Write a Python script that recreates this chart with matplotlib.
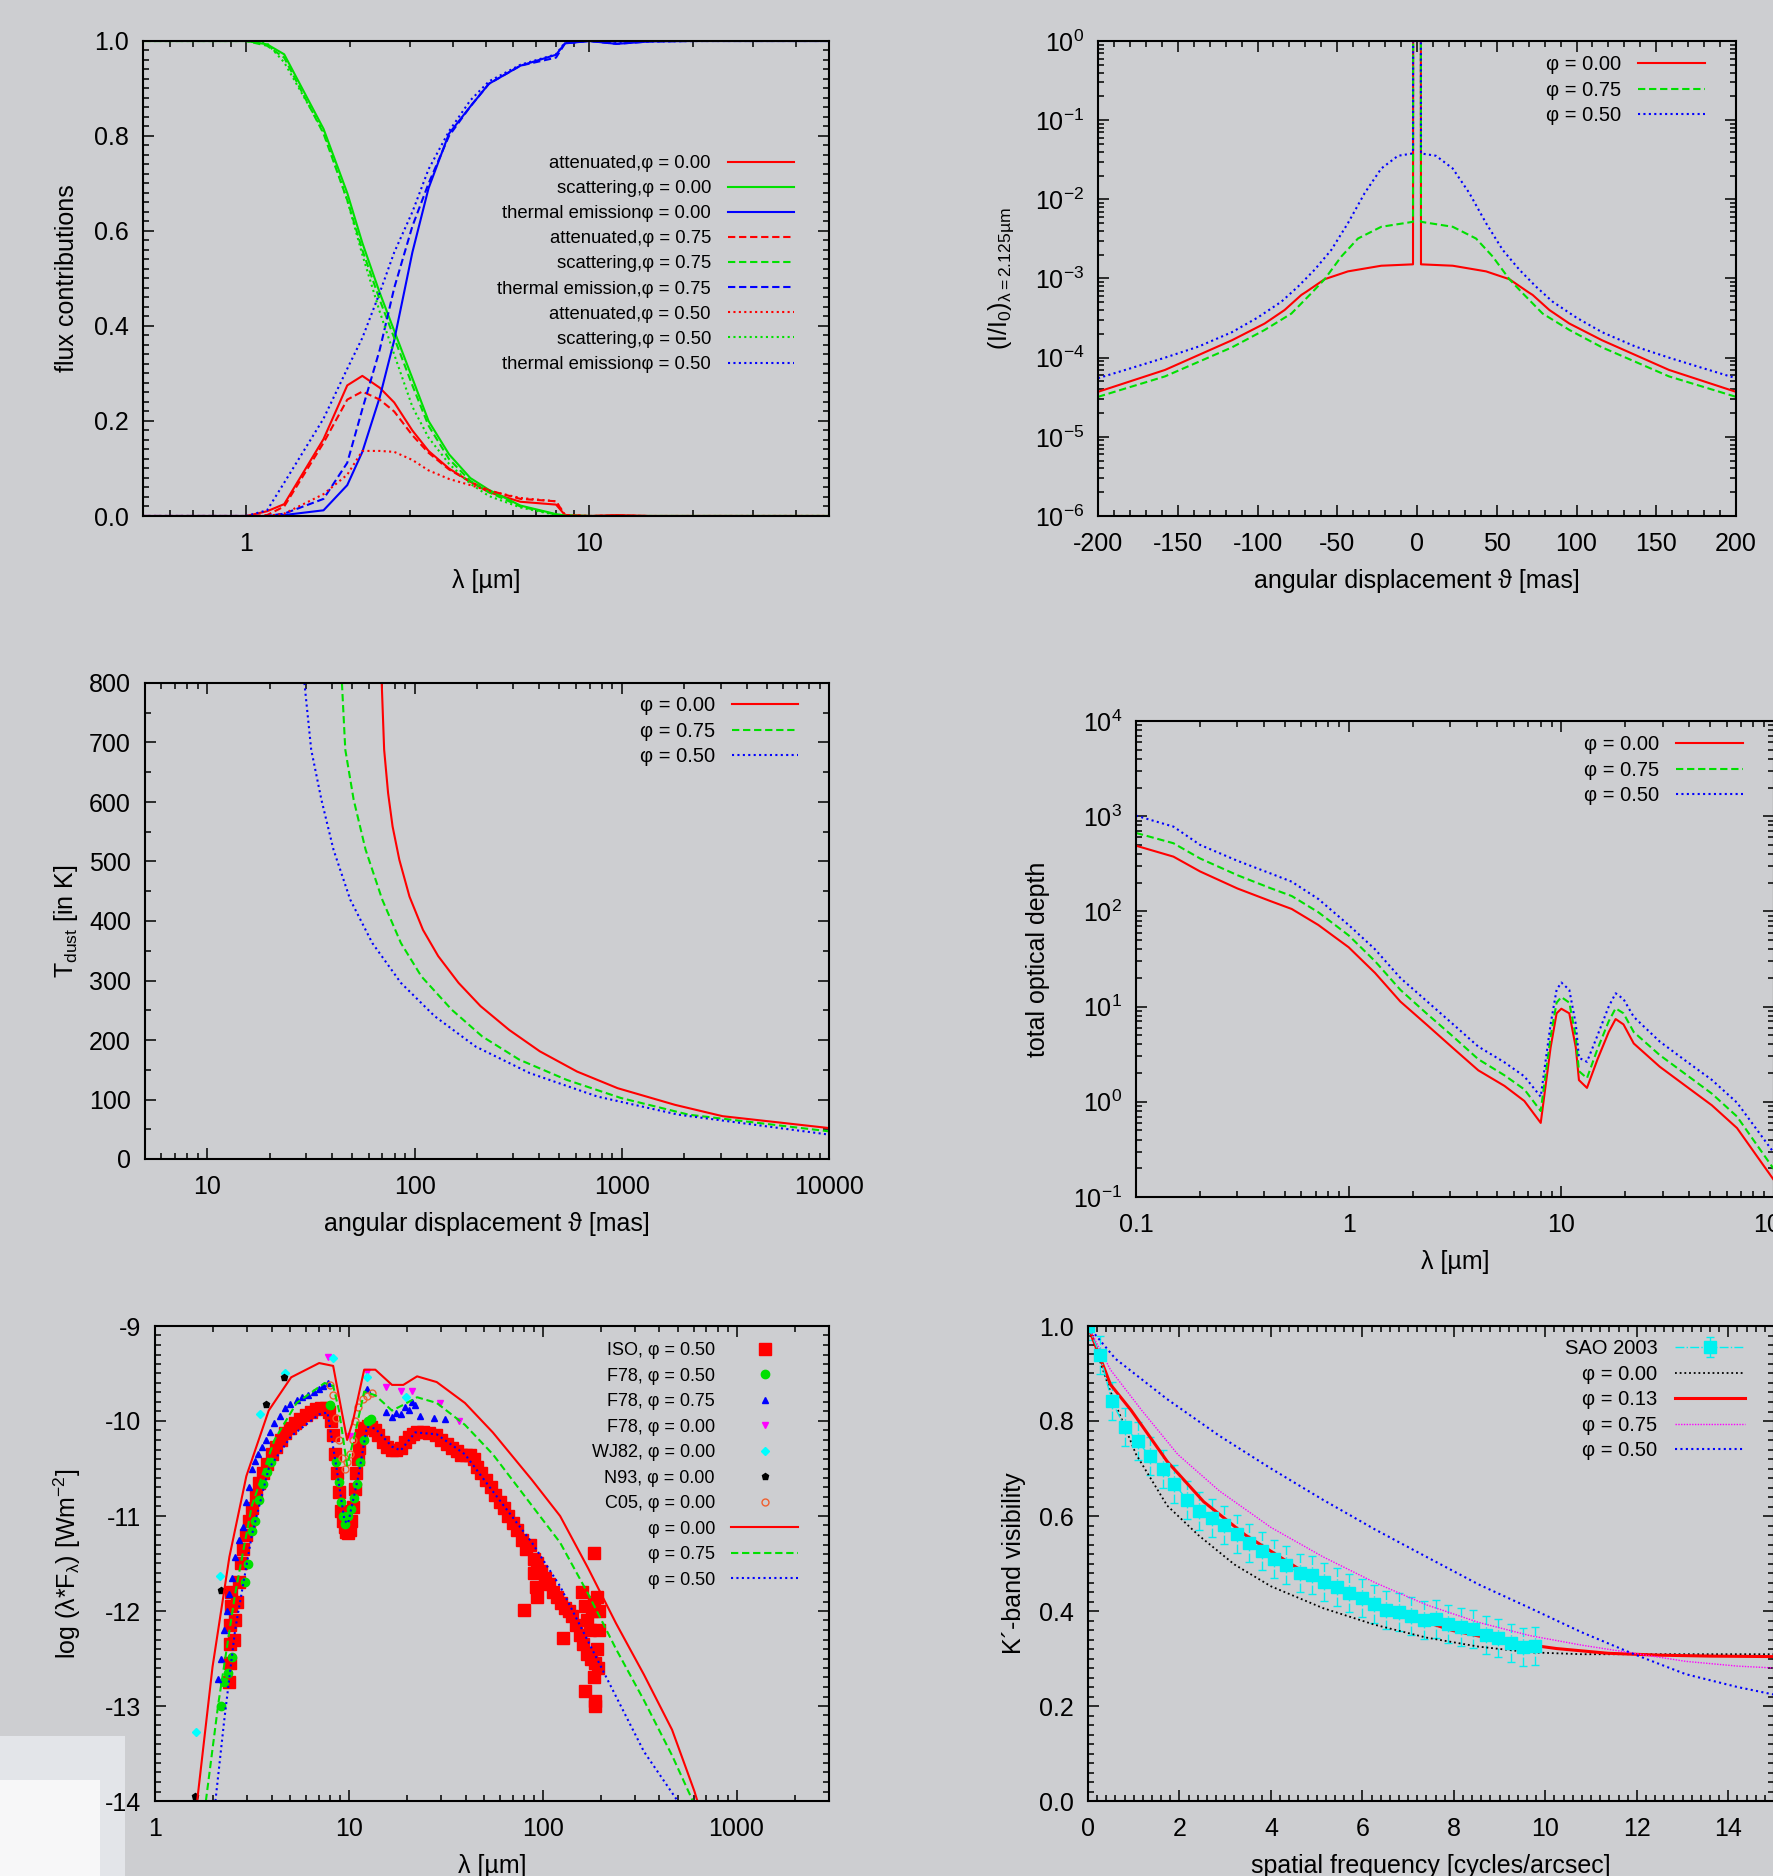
import matplotlib
matplotlib.use("Agg")
import matplotlib.pyplot as plt
from matplotlib import ticker
from matplotlib.patches import Rectangle

plt.rcParams['font.family'] = ['Liberation Sans', 'DejaVu Sans']
plt.rcParams['mathtext.fontset'] = 'custom'
plt.rcParams['mathtext.rm'] = 'Liberation Sans'
plt.rcParams['mathtext.it'] = 'Liberation Sans:italic'
plt.rcParams['mathtext.bf'] = 'Liberation Sans:bold'
plt.rcParams['axes.unicode_minus'] = False

# ---- panel 1: flux contributions ----
lam1 = [0.5, 1.0, 1.15, 1.29, 1.68, 1.97, 2.18, 2.45, 2.70, 3.05, 3.4, 3.9, 4.5, 5.1, 6.3, 8.0, 8.5, 10, 12, 15, 20, 50]
att_00 = [0, 0, 0.01, 0.025, 0.162, 0.275, 0.295, 0.27, 0.239, 0.18, 0.137, 0.10, 0.072, 0.05, 0.03, 0.024, 0.002, 0, 0.002, 0, 0, 0]
sca_00 = [1.0, 1.0, 0.993, 0.972, 0.815, 0.68, 0.575, 0.47, 0.39, 0.29, 0.20, 0.13, 0.08, 0.055, 0.022, 0.004, 0.001, 0, 0, 0, 0, 0]
the_00 = [0, 0, 0, 0.002, 0.012, 0.065, 0.135, 0.25, 0.37, 0.555, 0.69, 0.805, 0.862, 0.91, 0.948, 0.971, 0.995, 1.0, 0.994, 0.999, 1.0, 1.0]
att_75 = [0, 0, 0.002, 0.02, 0.154, 0.245, 0.262, 0.245, 0.22, 0.17, 0.133, 0.098, 0.072, 0.054, 0.036, 0.031, 0.002, 0, 0.001, 0, 0, 0]
sca_75 = [1.0, 1.0, 0.99, 0.965, 0.805, 0.665, 0.56, 0.455, 0.375, 0.275, 0.19, 0.12, 0.074, 0.05, 0.02, 0.003, 0.001, 0, 0, 0, 0, 0]
the_75 = [0, 0, 0, 0.005, 0.036, 0.112, 0.225, 0.35, 0.48, 0.61, 0.70, 0.80, 0.862, 0.91, 0.948, 0.965, 0.995, 1.0, 0.994, 0.999, 1.0, 1.0]
att_50 = [0, 0, 0, 0.005, 0.046, 0.087, 0.137, 0.137, 0.135, 0.118, 0.096, 0.078, 0.065, 0.053, 0.038, 0.031, 0.002, 0, 0.001, 0, 0, 0]
sca_50 = [1.0, 1.0, 0.995, 0.955, 0.81, 0.665, 0.55, 0.43, 0.34, 0.23, 0.165, 0.11, 0.068, 0.042, 0.018, 0.002, 0, 0, 0, 0, 0, 0]
the_50 = [0, 0, 0.012, 0.07, 0.205, 0.31, 0.375, 0.47, 0.555, 0.64, 0.73, 0.81, 0.875, 0.915, 0.95, 0.972, 0.997, 1.0, 0.996, 0.999, 1.0, 1.0]

# ---- panel 2: intensity profile at 2.125 um (spike at the centre runs off the top) ----
th2_00 = [-200, -158, -116, -95.5, -83, -72.5, -69.4, -57.9, -43.3, -22.4, -2.5, -2.4,
          2.4, 2.5, 22.4, 43.3, 57.9, 69.4, 72.5, 83, 95.5, 116, 158, 200]
prof_00 = [3.7e-5, 7.0e-5, 1.66e-4, 2.7e-4, 4.0e-4, 6.2e-4, 6.8e-4, 9.8e-4, 1.23e-3, 1.45e-3, 1.51e-3, 5,
           5, 1.51e-3, 1.45e-3, 1.23e-3, 9.8e-4, 6.8e-4, 6.2e-4, 4.0e-4, 2.7e-4, 1.66e-4, 7.0e-5, 3.7e-5]
th2_75 = [-200, -158, -116, -95.5, -78.8, -66.3, -57.9, -47.4, -37, -22.4, -2.5, -2.4,
          2.4, 2.5, 22.4, 37, 47.4, 57.9, 66.3, 78.8, 95.5, 116, 158, 200]
prof_75 = [3.2e-5, 5.8e-5, 1.35e-4, 2.24e-4, 3.6e-4, 6.5e-4, 9.8e-4, 1.9e-3, 3.2e-3, 4.5e-3, 5.2e-3, 5,
           5, 5.2e-3, 4.5e-3, 3.2e-3, 1.9e-3, 9.8e-4, 6.5e-4, 3.6e-4, 2.24e-4, 1.35e-4, 5.8e-5, 3.2e-5]
th2_50 = [-200, -179, -158, -137, -116, -100, -85, -74.6, -64.2, -53.7, -43.3, -32.8, -22.4, -11.9, -2.5, -2.4,
          2.4, 2.5, 11.9, 22.4, 32.8, 43.3, 53.7, 64.2, 74.6, 85, 100, 116, 137, 158, 179, 200]
prof_50 = [5.5e-5, 7.4e-5, 1.0e-4, 1.38e-4, 2.1e-4, 3.2e-4, 5.1e-4, 7.9e-4, 1.29e-3, 2.3e-3, 5.0e-3, 1.2e-2, 2.45e-2, 3.55e-2, 3.8e-2, 5,
           5, 3.8e-2, 3.55e-2, 2.45e-2, 1.2e-2, 5.0e-3, 2.3e-3, 1.29e-3, 7.9e-4, 5.1e-4, 3.2e-4, 2.1e-4, 1.38e-4, 1.0e-4, 7.4e-5, 5.5e-5]

# ---- panel 3: dust temperature ----
th3_00 = [69.4, 71.3, 74.5, 78.3, 84.4, 94.5, 109.8, 130, 163, 208, 286, 402, 608, 955, 1807, 3062, 10000]
T_00 = [800, 688, 615, 559, 503, 441, 385, 341, 296, 257, 217, 181, 147, 119, 91, 72, 52]
th3_75 = [44.6, 46.3, 50.8, 58, 69.8, 85.9, 107.8, 151, 212, 320, 542, 991, 2103, 10000]
T_75 = [800, 688, 604, 520, 436, 363, 307, 251, 206, 167, 133, 102.5, 74.5, 46.5]
th3_50 = [29.4, 31.7, 35.5, 40.6, 48.9, 62.5, 85.9, 125, 197, 359, 762, 1875, 10000]
T_50 = [800, 688, 604, 520, 436, 363, 296, 240, 189, 144.5, 105, 74.5, 41]

# ---- panel 4: total optical depth ----
lam4 = [0.1, 0.15, 0.2, 0.3, 0.43, 0.54, 0.72, 1.0, 1.33, 1.75, 2.32, 3.08, 4.07, 5.4, 6.7, 8.0,
        8.9, 9.5, 10.0, 10.9, 11.7, 12.1, 13.2, 14.8, 16.7, 18.0, 19.6, 21.9, 29, 38.4, 51, 67, 100]
tau_00 = [490, 376, 263, 174, 128, 106, 72, 42, 22.6, 11.3, 6.5, 3.7, 2.14, 1.47, 1.02, 0.60,
          3.7, 8.5, 9.5, 8.5, 3.7, 1.69, 1.40, 2.8, 5.4, 7.4, 6.5, 4.1, 2.34, 1.47, 0.92, 0.53, 0.15]
tau_75 = [667, 520, 360, 240, 175, 145, 98, 56, 30, 15, 8.5, 4.9, 2.8, 1.9, 1.35, 0.80,
          4.8, 11, 12.6, 11, 4.8, 2.1, 1.77, 3.6, 7.0, 9.6, 8.5, 5.4, 3.1, 1.95, 1.22, 0.70, 0.195]
tau_50 = [1014, 777, 500, 340, 250, 205, 135, 72, 40, 20, 11.5, 6.6, 3.8, 2.6, 1.85, 1.13,
          6.5, 15, 17.9, 15, 6.5, 2.9, 2.63, 5.0, 10, 13.8, 12, 7.8, 4.3, 2.7, 1.7, 0.98, 0.29]

# ---- panel 5: SED ----
sed_lam_00 = [1.65, 1.98, 2.42, 2.96, 3.86, 5.04, 7.03, 8.3, 9.17, 9.8, 10.5, 12.0, 13.7, 16.7, 19.1, 22.5, 28.4, 39.7, 55.3, 88, 123, 171.6, 239, 333, 465, 607, 628]
sed_00 = [-14, -12.59, -11.43, -10.58, -9.89, -9.54, -9.39, -9.42, -9.89, -10.2, -10.0, -9.46, -9.46, -9.62, -9.62, -9.53, -9.59, -9.81, -10.12, -10.62, -11.0, -11.55, -12.13, -12.67, -13.25, -13.9, -14]
sed_lam_75 = [1.83, 2.12, 2.59, 3.16, 4.13, 5.38, 7.5, 8.3, 8.9, 9.8, 10.8, 12.0, 13.7, 16.7, 19.1, 22.5, 28.4, 39.7, 55.3, 88, 123, 171.6, 239, 333, 465, 595]
sed_75 = [-14, -12.98, -11.82, -10.89, -10.2, -9.81, -9.6, -9.63, -9.89, -10.47, -10.12, -9.69, -9.73, -9.89, -9.83, -9.75, -9.81, -10.04, -10.35, -10.89, -11.28, -11.82, -12.40, -12.94, -13.52, -14]
sed_lam_50 = [2.05, 2.27, 2.59, 3.16, 3.86, 5.04, 7.03, 7.76, 8.6, 9.5, 9.9, 11.2, 12.4, 13.7, 16.7, 18.5, 22, 28.4, 39.7, 55.3, 88, 123, 171.6, 239, 333, 497]
sed_50 = [-14, -13.17, -12.2, -11.2, -10.5, -10.16, -9.93, -9.91, -10.47, -11.05, -11.08, -10.58, -10.06, -10.08, -10.27, -10.31, -10.12, -10.14, -10.35, -10.74, -11.28, -11.74, -12.32, -12.90, -13.48, -14]

iso_lam = [2.42, 2.43, 2.44, 2.45, 2.46, 2.47, 2.55, 2.6, 2.65, 2.7, 2.78, 2.85, 2.95, 3.05, 3.15, 3.3, 3.45, 3.6, 3.8, 4.0,
           4.2, 4.45, 4.7, 5.0, 5.3, 5.6, 6.0, 6.4, 6.8, 7.2, 7.6, 7.9, 8.1, 8.3, 8.5, 8.7, 8.9, 9.1, 9.3, 9.5,
           9.7, 9.9, 10.1, 10.3, 10.5, 10.7, 10.9, 11.1, 11.3, 11.6, 12.0, 12.5, 13.0, 13.6, 14.2, 15.0, 15.8, 16.6, 17.5, 18.5,
           19.5, 20.5, 21.5, 22.5, 24, 26, 28, 30, 32, 34, 36, 38, 40, 42, 44, 46, 48, 51, 54, 57,
           60, 63, 66, 70, 74, 78, 82, 86, 90, 94, 98, 103, 108, 113, 118, 124, 130, 136, 142, 148,
           155, 162, 170, 178, 186, 193, 160, 165, 170, 175, 180, 185, 190, 195, 195, 190, 185,
           80, 127, 166, 187, 187, 183, 90, 92, 94]
iso_val = [-12.75, -12.55, -12.35, -12.15, -11.95, -11.8, -12.3, -12.1, -11.9, -11.7, -11.5, -11.35, -11.2, -11.05, -10.92, -10.78, -10.65, -10.55, -10.45, -10.35,
           -10.27, -10.2, -10.13, -10.07, -10.02, -9.98, -9.94, -9.9, -9.87, -9.86, -9.86, -9.9, -10.0, -10.15, -10.35, -10.55, -10.75, -10.95, -11.05, -11.12,
           -11.17, -11.18, -11.15, -11.05, -10.9, -10.72, -10.55, -10.4, -10.28, -10.15, -10.07, -10.05, -10.06, -10.1, -10.15, -10.22, -10.27, -10.3, -10.31, -10.28,
           -10.22, -10.17, -10.14, -10.12, -10.12, -10.13, -10.15, -10.2, -10.24, -10.28, -10.32, -10.36, -10.36, -10.36, -10.4, -10.48, -10.55, -10.62, -10.7, -10.78,
           -10.85, -10.92, -11.0, -11.07, -11.15, -11.25, -11.35, -11.3, -11.45, -11.5, -11.58, -11.65, -11.72, -11.8, -11.85, -11.92, -11.97, -12.0, -12.05, -12.15,
           -12.25, -12.35, -12.45, -12.5, -12.55, -12.6, -11.8, -11.95, -12.1, -12.2, -12.0, -11.9, -11.85, -12.0, -12.2, -12.4, -12.7,
           -11.99, -12.28, -12.84, -13.0, -12.95, -11.39, -11.6, -11.75, -11.85]

f78_50_lam = [2.19, 2.27, 2.39, 2.5, 2.9, 3.02, 3.16, 3.27, 3.42, 3.6, 3.8, 3.98, 8.0, 8.6, 8.9, 9.1, 9.3, 9.6, 9.9, 10.3, 10.6, 11.0, 11.4, 12.0, 12.5, 13.0]
f78_50 = [-13.0, -12.75, -12.65, -12.48, -11.7, -11.51, -11.16, -11.05, -10.83, -10.66, -10.54, -10.43, -9.83, -10.43, -10.64, -10.85, -11.0, -11.08, -11.0, -10.93, -10.81, -10.66, -10.43, -10.2, -10.0, -9.98]
f78_75_lam = [2.12, 2.2, 2.27, 2.35, 2.42, 2.5, 2.59, 2.7, 2.86, 2.96, 3.06, 3.16, 3.27, 3.38, 3.55, 3.73, 3.9, 4.13, 4.4, 4.7,
              5.0, 5.38, 5.75, 6.15, 6.6, 7.03, 7.4, 7.8, 12.4, 15.6, 16.7, 17.6, 18.5, 19.5, 20.4, 21.2, 22, 23.4, 27.4, 31.3]
f78_75 = [-12.72, -12.5, -12.2, -12.0, -11.82, -11.65, -11.43, -11.25, -11.12, -10.85, -10.7, -10.5, -10.42, -10.35, -10.27, -10.2, -10.12, -10.02, -9.95, -9.86,
          -9.82, -9.78, -9.75, -9.73, -9.69, -9.66, -9.63, -9.6, -9.66, -9.9, -9.96, -9.92, -9.93, -9.85, -9.88, -9.8, -9.83, -9.95, -9.97, -9.98]
f78_00_lam = [7.8, 10.1, 12.4, 15.6, 18.5, 21.1, 29.4, 37.2]
f78_00 = [-9.33, -10.16, -9.48, -9.64, -9.68, -9.68, -9.81, -10.0]
wj82_lam = [1.63, 2.16, 3.5, 4.7, 8.3, 12.4, 19.8]
wj82 = [-13.27, -11.63, -9.93, -9.5, -9.34, -9.54, -9.75]
n93_lam = [1.6, 2.19, 3.73, 4.63]
n93 = [-13.95, -11.78, -9.82, -9.54]
c05_lam = [8.0, 8.3, 8.6, 8.9, 9.2, 9.5, 9.8, 10.1, 10.5, 10.8, 11.2, 11.8, 12.4, 13.2]
c05 = [-9.62, -9.73, -9.97, -10.2, -10.39, -10.5, -10.43, -10.35, -10.2, -10.0, -9.85, -9.77, -9.74, -9.71]

# ---- panel 6: K' band visibility ----
sao_f = [0, 0.26, 0.52, 0.8, 1.09, 1.35, 1.63, 1.89, 2.16, 2.43, 2.71, 2.98, 3.25, 3.53, 3.8, 4.07, 4.34, 4.63, 4.9,
         5.17, 5.44, 5.7, 5.99, 6.25, 6.52, 6.79, 7.06, 7.35, 7.61, 7.88, 8.15, 8.42, 8.7, 8.97, 9.24, 9.51, 9.78]
sao_v = [1.0, 0.94, 0.842, 0.788, 0.757, 0.726, 0.698, 0.668, 0.634, 0.611, 0.595, 0.582, 0.562, 0.543, 0.526, 0.51, 0.497, 0.479, 0.475,
         0.461, 0.451, 0.437, 0.427, 0.415, 0.403, 0.398, 0.389, 0.381, 0.384, 0.373, 0.367, 0.363, 0.35, 0.344, 0.332, 0.325, 0.327]
sao_err = [0.03, 0.04, 0.04, 0.04, 0.04, 0.04, 0.04, 0.04, 0.04, 0.04, 0.04, 0.04, 0.04, 0.04, 0.04, 0.04, 0.04, 0.04, 0.04,
           0.04, 0.04, 0.04, 0.04, 0.04, 0.04, 0.04, 0.04, 0.04, 0.04, 0.04, 0.04, 0.04, 0.04, 0.04, 0.04, 0.04, 0.04]
freq_00 = [0, 0.49, 1.05, 1.73, 2.41, 3.2, 4.0, 5.14, 6.27, 7.4, 8.54, 9.67, 10.8, 11.94, 15]
vis_00 = [1.0, 0.862, 0.73, 0.622, 0.56, 0.498, 0.452, 0.406, 0.371, 0.344, 0.325, 0.313, 0.309, 0.309, 0.309]
freq_13 = [0, 0.49, 0.94, 1.73, 2.53, 3.44, 4.57, 5.7, 6.84, 7.97, 9.1, 10.24, 11.37, 12.5, 13.64, 15]
vis_13 = [1.0, 0.877, 0.823, 0.715, 0.63, 0.56, 0.491, 0.437, 0.394, 0.359, 0.336, 0.321, 0.311, 0.307, 0.305, 0.304]
freq_75 = [0, 0.49, 1.17, 1.96, 2.87, 4.0, 5.14, 6.27, 7.4, 8.54, 9.67, 10.8, 11.94, 13.07, 14.2, 15]
vis_75 = [1.0, 0.908, 0.823, 0.73, 0.653, 0.576, 0.514, 0.46, 0.413, 0.376, 0.348, 0.328, 0.311, 0.294, 0.284, 0.28]
freq_50 = [0, 0.6, 1.73, 2.87, 4.0, 5.14, 6.27, 7.4, 8.54, 9.67, 10.8, 11.94, 13.07, 14.2, 15]
vis_50 = [1.0, 0.931, 0.846, 0.769, 0.7, 0.634, 0.572, 0.514, 0.456, 0.406, 0.355, 0.309, 0.267, 0.24, 0.224]

BG = '#cdced1'
RED, GREEN, BLUE = '#ff0000', '#00e000', '#0000ff'
DASH = (3.5, 1.8)
DOT = (1.0, 1.6)
W, H = 1773, 1876

fig = plt.figure(figsize=(W / 100, H / 100), dpi=100, facecolor=BG)
fig.patches.append(Rectangle((0, 0), 125 / W, 140 / H, transform=fig.transFigure,
                             facecolor='#e3e5e9', edgecolor='none', zorder=-2))
fig.patches.append(Rectangle((0, 0), 100 / W, 96 / H, transform=fig.transFigure,
                             facecolor='#f7f7f8', edgecolor='none', zorder=-1))


def panel(l, r, t, b):
    ax = fig.add_axes([l / W, 1 - b / H, (r - l) / W, (b - t) / H], facecolor=BG)
    ax.tick_params(which='both', direction='in', top=True, right=True, labelsize=18, width=1.1)
    ax.tick_params(which='major', length=8)
    ax.tick_params(which='minor', length=4)
    ax.tick_params(axis='x', pad=11.5)
    ax.tick_params(axis='y', pad=10)
    for s in ax.spines.values():
        s.set_linewidth(1.5)
    ax.pw, ax.ph = r - l, b - t
    return ax


def labels(ax, xl, yl, xoff, yoff):
    ax.set_xlabel(xl, fontsize=18, va='center')
    ax.xaxis.set_label_coords(0.5, -xoff / ax.ph)
    ax.set_ylabel(yl, fontsize=18, va='center')
    ax.yaxis.set_label_coords(-yoff / ax.pw, 0.5)


def legend(ax, fs, ls, hl, right, top, tp=0.9, order=None):
    fpx = fs * 100 / 72
    handles, names = ax.get_legend_handles_labels()
    if order:
        handles = [handles[i] for i in order]
        names = [names[i] for i in order]
    ax.legend(handles, names, loc='upper right', bbox_to_anchor=(right, 1 - top / ax.ph + 0.38 * fpx / ax.ph),
              frameon=False, borderpad=0, borderaxespad=0, markerfirst=False, numpoints=1,
              handlelength=hl, handletextpad=tp, labelspacing=ls, fontsize=fs)


# panel 1
ax = panel(143, 829, 41, 516)
ax.plot(lam1, att_00, color=RED, lw=1.5, label='attenuated,φ = 0.00')
ax.plot(lam1, sca_00, color=GREEN, lw=1.5, label='scattering,φ = 0.00')
ax.plot(lam1, the_00, color=BLUE, lw=1.5, label='thermal emissionφ = 0.00')
ax.plot(lam1, att_75, color=RED, lw=1.5, dashes=DASH, label='attenuated,φ = 0.75')
ax.plot(lam1, sca_75, color=GREEN, lw=1.5, dashes=DASH, label='scattering,φ = 0.75')
ax.plot(lam1, the_75, color=BLUE, lw=1.5, dashes=DASH, label='thermal emission,φ = 0.75')
ax.plot(lam1, att_50, color=RED, lw=1.5, dashes=DOT, label='attenuated,φ = 0.50')
ax.plot(lam1, sca_50, color=GREEN, lw=1.5, dashes=DOT, label='scattering,φ = 0.50')
ax.plot(lam1, the_50, color=BLUE, lw=1.5, dashes=DOT, label='thermal emissionφ = 0.50')
ax.set_xscale('log')
ax.set_xlim(0.5, 50)
ax.set_ylim(0, 1)
ax.set_xticks([1, 10], ['1', '10'])
ax.xaxis.set_minor_formatter(ticker.NullFormatter())
ax.yaxis.set_major_locator(ticker.MultipleLocator(0.2))
ax.yaxis.set_major_formatter(ticker.FormatStrFormatter('%.1f'))
ax.yaxis.set_minor_locator(ticker.AutoMinorLocator(10))
labels(ax, 'λ [µm]', 'flux contributions', 65, 76)
legend(ax, 13.3, 0.44, 3.6, 0.949, 121)

# panel 2
ax = panel(1098, 1736, 41, 516)
ax.plot(th2_00, prof_00, color=RED, lw=1.5, label='φ = 0.00')
ax.plot(th2_75, prof_75, color=GREEN, lw=1.5, dashes=DASH, label='φ = 0.75')
ax.plot(th2_50, prof_50, color=BLUE, lw=1.5, dashes=DOT, label='φ = 0.50')
ax.set_yscale('log')
ax.set_xlim(-200, 200)
ax.set_ylim(1e-6, 1)
ax.xaxis.set_major_locator(ticker.MultipleLocator(50))
ax.xaxis.set_minor_locator(ticker.MultipleLocator(10))
ax.yaxis.set_major_formatter(ticker.LogFormatterMathtext())
labels(ax, 'angular displacement ϑ [mas]', '(I/I$_0$)$_{\\mathrm{λ=2.125µm}}$', 65, 97)
legend(ax, 14.5, 0.32, 3.3, 0.951, 22, tp=0.85)

# panel 3
ax = panel(145, 829, 683, 1159)
ax.plot(th3_00, T_00, color=RED, lw=1.5, label='φ = 0.00')
ax.plot(th3_75, T_75, color=GREEN, lw=1.5, dashes=DASH, label='φ = 0.75')
ax.plot(th3_50, T_50, color=BLUE, lw=1.5, dashes=DOT, label='φ = 0.50')
ax.set_xscale('log')
ax.set_xlim(5, 10000)
ax.set_ylim(0, 800)
ax.set_xticks([10, 100, 1000, 10000], ['10', '100', '1000', '10000'])
ax.xaxis.set_minor_formatter(ticker.NullFormatter())
ax.yaxis.set_major_locator(ticker.MultipleLocator(100))
ax.yaxis.set_minor_locator(ticker.AutoMinorLocator(2))
labels(ax, 'angular displacement ϑ [mas]', 'T$_{\\mathrm{dust}}$ [in K]', 65, 79)
legend(ax, 14.5, 0.32, 3.3, 0.955, 21, tp=0.85)

# panel 4
ax = panel(1136, 1774, 721, 1197)
ax.plot(lam4, tau_00, color=RED, lw=1.5, label='φ = 0.00')
ax.plot(lam4, tau_75, color=GREEN, lw=1.5, dashes=DASH, label='φ = 0.75')
ax.plot(lam4, tau_50, color=BLUE, lw=1.5, dashes=DOT, label='φ = 0.50')
ax.set_xscale('log')
ax.set_yscale('log')
ax.set_xlim(0.1, 100)
ax.set_ylim(0.1, 1e4)
ax.set_xticks([0.1, 1, 10, 100], ['0.1', '1', '10', '100'])
ax.xaxis.set_minor_formatter(ticker.NullFormatter())
ax.yaxis.set_major_formatter(ticker.LogFormatterMathtext())
labels(ax, 'λ [µm]', 'total optical depth', 65, 98)
legend(ax, 14.5, 0.32, 3.3, 0.951, 22, tp=0.85)

# panel 5
ax = panel(155, 829, 1326, 1801)
ax.plot(iso_lam, iso_val, ls='none', marker='s', ms=8.5, color=RED, label='ISO, φ = 0.50')
ax.plot(f78_50_lam, f78_50, ls='none', marker='o', ms=6, color=GREEN, label='F78, φ = 0.50')
ax.plot(f78_75_lam, f78_75, ls='none', marker='^', ms=5, color=BLUE, label='F78, φ = 0.75')
ax.plot(f78_00_lam, f78_00, ls='none', marker='v', ms=5, color='#ff00ff', label='F78, φ = 0.00')
ax.plot(wj82_lam, wj82, ls='none', marker='D', ms=4, color='#00ffff', label='WJ82, φ = 0.00')
ax.plot(n93_lam, n93, ls='none', marker='p', ms=5, color='black', label='N93, φ = 0.00')
ax.plot(c05_lam, c05, ls='none', marker='o', ms=5, mfc='none', mew=1, color='#f06030', label='C05, φ = 0.00')
ax.plot(sed_lam_00, sed_00, color=RED, lw=1.5, label='φ = 0.00')
ax.plot(sed_lam_75, sed_75, color=GREEN, lw=1.5, dashes=DASH, label='φ = 0.75')
ax.plot(sed_lam_50, sed_50, color=BLUE, lw=1.5, dashes=DOT, label='φ = 0.50')
ax.set_xscale('log')
ax.set_xlim(1, 3000)
ax.set_ylim(-14, -9)
ax.set_xticks([1, 10, 100, 1000], ['1', '10', '100', '1000'])
ax.xaxis.set_minor_formatter(ticker.NullFormatter())
ax.yaxis.set_major_locator(ticker.MultipleLocator(1))
ax.yaxis.set_major_formatter(ticker.FormatStrFormatter('%d'))
ax.yaxis.set_minor_locator(ticker.AutoMinorLocator(10))
labels(ax, 'λ [µm]', 'log (λ*F$_{\\mathrm{λ}}$) [Wm$^{-2}$]', 65, 88)
legend(ax, 13, 0.47, 3.7, 0.954, 23)

# panel 6
ax = panel(1088, 1774, 1326, 1801)
eb = ax.errorbar(sao_f, sao_v, yerr=sao_err, fmt='s', ms=8, color='#00f0f0', ecolor='#00f0f0',
                 lw=1, ls='-.', capsize=3, elinewidth=1, label='SAO 2003')
eb[2][0].set_linestyle('-.')
ax.plot(freq_00, vis_00, color='black', lw=1.3, dashes=DOT, label='φ = 0.00')
ax.plot(freq_13, vis_13, color=RED, lw=2.2, label='φ = 0.13')
ax.plot(freq_75, vis_75, color='#ff00ff', lw=1.0, dashes=(1, 1), label='φ = 0.75')
ax.plot(freq_50, vis_50, color=BLUE, lw=1.5, dashes=DOT, label='φ = 0.50')
ax.set_xlim(0, 15)
ax.set_ylim(0, 1)
ax.xaxis.set_major_locator(ticker.MultipleLocator(2))
ax.xaxis.set_minor_locator(ticker.AutoMinorLocator(10))
ax.yaxis.set_major_locator(ticker.MultipleLocator(0.2))
ax.yaxis.set_major_formatter(ticker.FormatStrFormatter('%.1f'))
ax.yaxis.set_minor_locator(ticker.AutoMinorLocator(10))
labels(ax, 'spatial frequency [cycles/arcsec]', 'K´-band visibility', 65, 74)
legend(ax, 14.5, 0.32, 3.5, 0.958, 21, tp=0.85, order=[4, 0, 1, 2, 3])

fig.savefig('out.png', dpi=100, facecolor=BG)
